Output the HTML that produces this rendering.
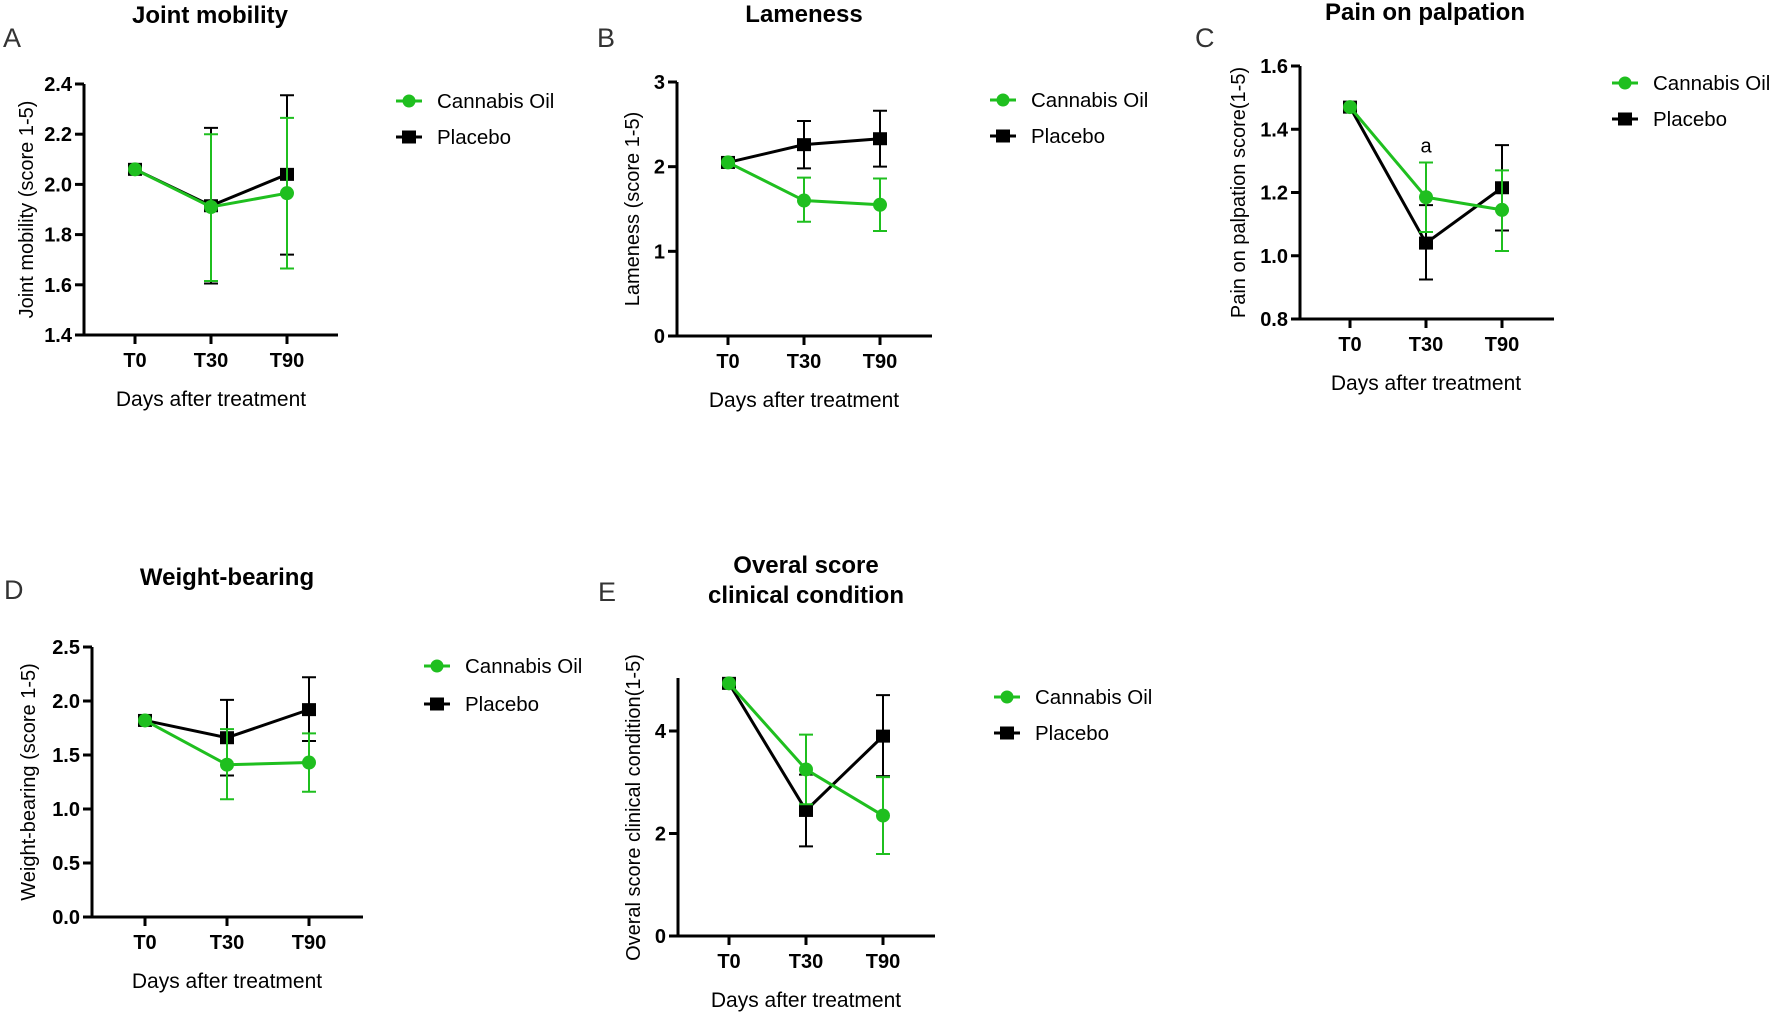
<!DOCTYPE html>
<html><head><meta charset="utf-8"><style>
html,body{margin:0;padding:0;background:#fff;}
svg{display:block;font-family:"Liberation Sans",Arial,sans-serif;}
</style></head><body>
<svg id="fig" width="1772" height="1015" viewBox="0 0 1772 1015"></svg>
<script>
const categories = ["T0","T30","T90"];
// Panel A
const aCannabis = [2.06, 1.91, 1.965];
const aCannabisLo = [2.06, 1.615, 1.665];
const aCannabisHi = [2.06, 2.20, 2.265];
const aPlacebo = [2.06, 1.915, 2.04];
const aPlaceboLo = [2.06, 1.605, 1.72];
const aPlaceboHi = [2.06, 2.225, 2.355];
const aTicks = ["1.4","1.6","1.8","2.0","2.2","2.4"];
// Panel B
const bCannabis = [2.05, 1.60, 1.55];
const bCannabisLo = [2.05, 1.35, 1.24];
const bCannabisHi = [2.05, 1.87, 1.86];
const bPlacebo = [2.05, 2.26, 2.33];
const bPlaceboLo = [2.05, 1.98, 2.00];
const bPlaceboHi = [2.05, 2.54, 2.66];
const bTicks = ["0","1","2","3"];
// Panel C
const cCannabis = [1.47, 1.185, 1.145];
const cCannabisLo = [1.47, 1.075, 1.015];
const cCannabisHi = [1.47, 1.295, 1.27];
const cPlacebo = [1.47, 1.04, 1.215];
const cPlaceboLo = [1.47, 0.925, 1.08];
const cPlaceboHi = [1.47, 1.16, 1.35];
const cTicks = ["0.8","1.0","1.2","1.4","1.6"];
// Panel D
const dCannabis = [1.82, 1.41, 1.43];
const dCannabisLo = [1.82, 1.09, 1.16];
const dCannabisHi = [1.82, 1.74, 1.70];
const dPlacebo = [1.82, 1.66, 1.92];
const dPlaceboLo = [1.82, 1.31, 1.63];
const dPlaceboHi = [1.82, 2.01, 2.22];
const dTicks = ["0.0","0.5","1.0","1.5","2.0","2.5"];
// Panel E
const eCannabis = [4.93, 3.25, 2.35];
const eCannabisLo = [4.93, 2.57, 1.60];
const eCannabisHi = [4.93, 3.93, 3.10];
const ePlacebo = [4.93, 2.45, 3.90];
const ePlaceboLo = [4.93, 1.75, 3.12];
const ePlaceboHi = [4.93, 3.15, 4.70];
const eTicks = ["0","2","4"];

const NS = "http://www.w3.org/2000/svg";
const svg = document.getElementById("fig");
const GREEN = "#1fbf1f";
function mk(parent, tag, attrs, text){
  const e = document.createElementNS(NS, tag);
  for (const k in attrs) e.setAttribute(k, attrs[k]);
  if (text !== undefined) e.textContent = text;
  parent.appendChild(e);
  return e;
}

function panel(p){
  const g = mk(svg, "g", {});
  
  
  const y = v => p.y0 - (v - p.vmin) / (p.vmax - p.vmin) * (p.y0 - p.y1);
  const x = i => p.xs[0] + i * (p.xs[1] - p.xs[0]);

  const letter = mk(g, "text", {x:p.lx, y:p.ly, "font-size":27, fill:"#333"}, p.letter);
  
  
  p.title.forEach((t, k) => {
    const tt = mk(g, "text", {x:p.tx, y:p.ty + k*30, "font-size":24, "font-weight":"bold", "text-anchor":"middle"}, t);
    
    
  });
  const top = p.axTop !== undefined ? p.axTop : p.y1;
  const ya = mk(g, "line", {x1:p.ax, y1:top, x2:p.ax, y2:p.y0+1.5, stroke:"#000", "stroke-width":3});
  
  
  const xa = mk(g, "line", {x1:p.ax-9, y1:p.y0, x2:p.xend, y2:p.y0, stroke:"#000", "stroke-width":3});
  
  
  p.ticks.forEach(t => {
    const yy = y(parseFloat(t));
    mk(g, "line", {x1:p.ax-9, y1:yy, x2:p.ax, y2:yy, stroke:"#000", "stroke-width":3});
    const tl = mk(g, "text", {x:p.ax-12, y:yy+7, "font-size":20, "font-weight":"bold", "text-anchor":"end"}, t);
    
    
  });
  categories.forEach((c, i) => {
    mk(g, "line", {x1:x(i), y1:p.y0, x2:x(i), y2:p.y0+9, stroke:"#000", "stroke-width":3});
    const cl = mk(g, "text", {x:x(i), y:p.y0+32, "font-size":20, "font-weight":"bold", "text-anchor":"middle"}, c);
    
    
  });
  const xt = mk(g, "text", {x:(x(0)+x(2))/2, y:p.y0+71, "font-size":21, "text-anchor":"middle"}, "Days after treatment");
  
  
  const ycy = (p.y0 + p.y1) / 2 + (p.ylabOff || 0);
  const yt = mk(g, "text", {x:p.ylx, y:ycy, "font-size":20, "text-anchor":"middle", transform:`rotate(-90 ${p.ylx} ${ycy})`}, p.ylab);
  
  

  function series(vals, lo, hi, color, shape, name){
    const sg = mk(g, "g", {});
    
    
    vals.forEach((v, i) => {
      if (hi[i] !== lo[i]) {
        const eb = mk(sg, "path", {d:`M${x(i)} ${y(lo[i])}V${y(hi[i])}M${x(i)-7} ${y(lo[i])}h14M${x(i)-7} ${y(hi[i])}h14`, stroke:color, "stroke-width":2, fill:"none"});
        
        
      }
    });
    const line = mk(sg, "polyline", {points: vals.map((v,i)=>`${x(i)},${y(v)}`).join(" "), stroke:color, "stroke-width":3, fill:"none"});
    
    
    vals.forEach((v, i) => {
      let m;
      if (shape === "sq") m = mk(sg, "rect", {x:x(i)-7, y:y(v)-6.5, width:14, height:13, fill:color});
      else m = mk(sg, "circle", {cx:x(i), cy:y(v), r:7, fill:color});
      
      
    });
  }
  series(p.pl, p.plLo, p.plHi, "#000", "sq", "placebo");
  series(p.ca, p.caLo, p.caHi, GREEN, "circle", "cannabis");

  const lg = mk(g, "g", {});
  
  
  [[GREEN,"circle","Cannabis Oil",p.leg[1]],["#000","sq","Placebo",p.leg[2]]].forEach(([c,s,t,yy]) => {
    const e = mk(lg, "g", {});
    
    
    mk(e, "line", {x1:p.leg[0], y1:yy, x2:p.leg[0]+26, y2:yy, stroke:c, "stroke-width":3});
    if (s === "sq") mk(e, "rect", {x:p.leg[0]+6, y:yy-6.5, width:14, height:13, fill:c});
    else mk(e, "circle", {cx:p.leg[0]+13, cy:yy, r:6.5, fill:c});
    mk(e, "text", {x:p.leg[0]+41, y:yy+7, "font-size":20.5}, t);
  });
  return {g, x, y};
}

panel({id:"a", letter:"A", lx:3, ly:47, title:["Joint mobility"], tx:210, ty:23,
  ax:84, y0:335, y1:84, vmin:1.4, vmax:2.4, xend:338, xs:[135,211], ticks:aTicks,
  ylab:"Joint mobility (score 1-5)", ylx:33, leg:[396,101,137],
  ca:aCannabis, caLo:aCannabisLo, caHi:aCannabisHi, pl:aPlacebo, plLo:aPlaceboLo, plHi:aPlaceboHi});
panel({id:"b", letter:"B", lx:597, ly:47, title:["Lameness"], tx:804, ty:22,
  ax:677, y0:336, y1:82, vmin:0, vmax:3, xend:932, xs:[728,804], ticks:bTicks,
  ylab:"Lameness (score 1-5)", ylx:639, leg:[990,100,136],
  ca:bCannabis, caLo:bCannabisLo, caHi:bCannabisHi, pl:bPlacebo, plLo:bPlaceboLo, plHi:bPlaceboHi});
const pc = panel({id:"c", letter:"C", lx:1195, ly:47, title:["Pain on palpation"], tx:1425, ty:20,
  ax:1300, y0:319, y1:66, vmin:0.8, vmax:1.6, xend:1554, xs:[1350,1426], ticks:cTicks,
  ylab:"Pain on palpation score(1-5)", ylx:1245, leg:[1612,83,119],
  ca:cCannabis, caLo:cCannabisLo, caHi:cCannabisHi, pl:cPlacebo, plLo:cPlaceboLo, plHi:cPlaceboHi});
const sig = mk(pc.g, "text", {x:pc.x(1), y:pc.y(1.295)-10, "font-size":20, "text-anchor":"middle"}, "a");


panel({id:"d", letter:"D", lx:4, ly:599, title:["Weight-bearing"], tx:227, ty:585,
  ax:92, y0:917, y1:647, vmin:0, vmax:2.5, xend:363, xs:[145,227], ticks:dTicks,
  ylab:"Weight-bearing (score 1-5)", ylx:35, leg:[424,666,704],
  ca:dCannabis, caLo:dCannabisLo, caHi:dCannabisHi, pl:dPlacebo, plLo:dPlaceboLo, plHi:dPlaceboHi});
panel({id:"e", letter:"E", lx:598, ly:601, title:["Overal score","clinical condition"], tx:806, ty:573,
  ax:678, y0:936, y1:731, vmin:0, vmax:4, axTop:678, xend:935, xs:[729,806], ticks:eTicks,
  ylab:"Overal score clinical condition(1-5)", ylx:640, ylabOff:-26, leg:[994,697,733],
  ca:eCannabis, caLo:eCannabisLo, caHi:eCannabisHi, pl:ePlacebo, plLo:ePlaceboLo, plHi:ePlaceboHi});
</script>
</body></html>
